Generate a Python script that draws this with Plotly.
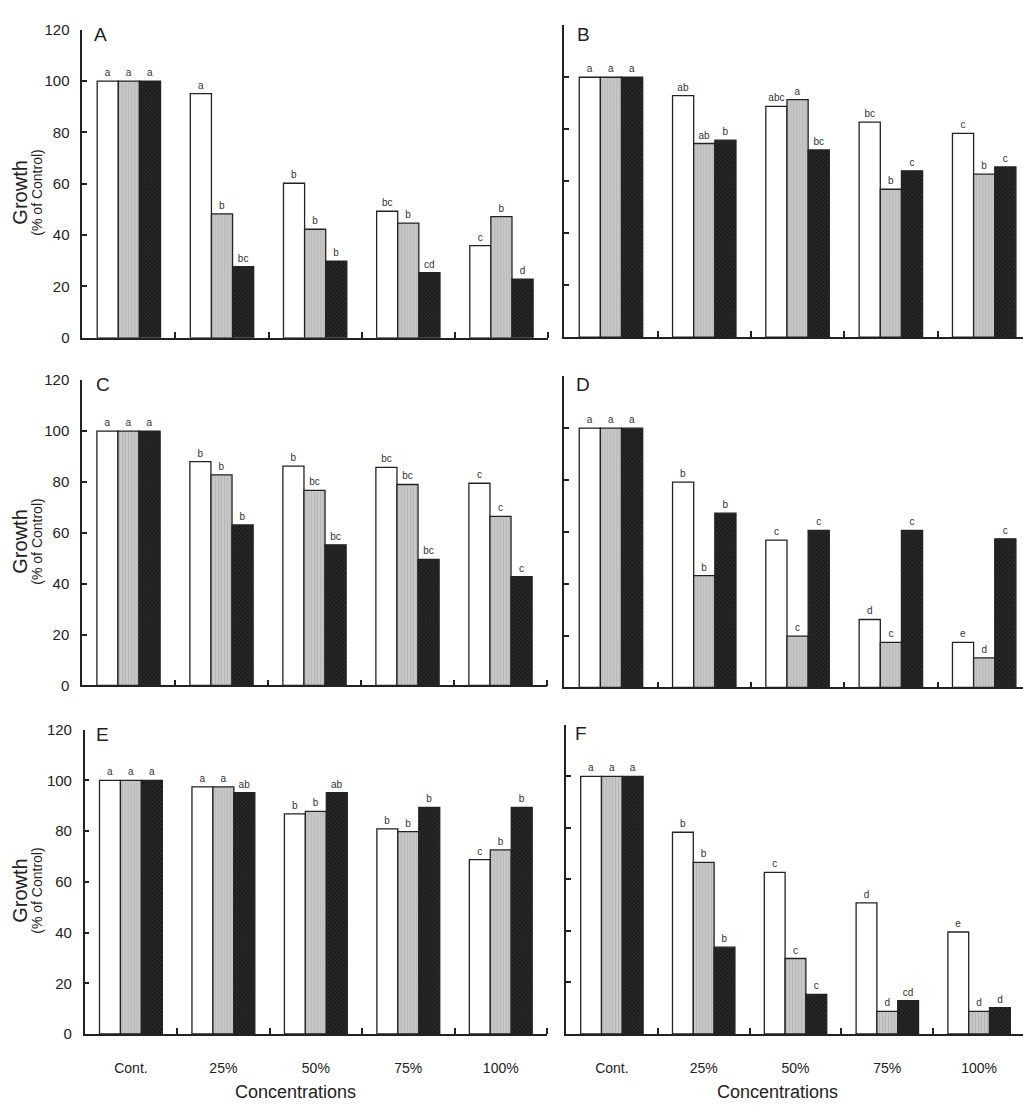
import plotly.graph_objects as go

categories = ["Cont.", "25%", "50%", "75%", "100%"]

A_white = [100, 95.1, 60.2, 49.3, 35.9]
A_gray = [100, 48.3, 42.3, 44.7, 47.2]
A_black = [100, 27.7, 29.9, 25.4, 22.9]
A_lw = ["a", "a", "b", "bc", "c"]
A_lg = ["a", "b", "b", "b", "b"]
A_lb = ["a", "bc", "b", "cd", "d"]

B_white = [100, 92.9, 88.8, 82.7, 78.4]
B_gray = [100, 74.5, 91.4, 56.9, 62.7]
B_black = [100, 75.8, 72.0, 64.0, 65.5]
B_lw = ["a", "ab", "abc", "bc", "c"]
B_lg = ["a", "ab", "a", "b", "b"]
B_lb = ["a", "b", "bc", "c", "c"]

C_white = [100, 88.0, 86.2, 85.7, 79.5]
C_gray = [100, 82.8, 76.7, 79.0, 66.5]
C_black = [100, 63.1, 55.3, 49.6, 42.8]
C_lw = ["a", "b", "b", "bc", "c"]
C_lg = ["a", "b", "bc", "bc", "c"]
C_lb = ["a", "b", "bc", "bc", "c"]

D_white = [100, 79.2, 56.8, 26.2, 17.4]
D_gray = [100, 43.1, 19.8, 17.4, 11.4]
D_black = [100, 67.2, 60.6, 60.6, 57.3]
D_lw = ["a", "b", "c", "d", "e"]
D_lg = ["a", "b", "c", "c", "d"]
D_lb = ["a", "b", "c", "c", "c"]

E_white = [100, 97.5, 86.8, 80.9, 68.8]
E_gray = [100, 97.5, 87.8, 79.8, 72.6]
E_black = [100, 95.2, 95.2, 89.4, 89.4]
E_lw = ["a", "a", "b", "b", "c"]
E_lg = ["a", "a", "b", "b", "b"]
E_lb = ["a", "ab", "ab", "b", "b"]

F_white = [100, 78.3, 62.7, 50.9, 39.6]
F_gray = [100, 66.6, 29.3, 8.8, 8.8]
F_black = [100, 33.7, 15.4, 12.9, 10.2]
F_lw = ["a", "b", "c", "d", "e"]
F_lg = ["a", "b", "c", "d", "d"]
F_lb = ["a", "b", "c", "cd", "d"]

panels = [
    ("A", A_white, A_gray, A_black, A_lw, A_lg, A_lb),
    ("B", B_white, B_gray, B_black, B_lw, B_lg, B_lb),
    ("C", C_white, C_gray, C_black, C_lw, C_lg, C_lb),
    ("D", D_white, D_gray, D_black, D_lw, D_lg, D_lb),
    ("E", E_white, E_gray, E_black, E_lw, E_lg, E_lb),
    ("F", F_white, F_gray, F_black, F_lw, F_lg, F_lb),
]

W, H = 1023, 1106
# pixel geometry: (x_left, x_right, range_end, y_top(120), y_bottom(0))
geom = [
    (82.3, 548.0, 4.5, 21.0, 334.0),
    (564.3, 1023.0, 4.416, 16.5, 333.3),
    (82.0, 547.0, 4.5, 377.0, 687.0),
    (564.3, 1023.0, 4.416, 373.0, 689.0),
    (84.7, 547.0, 4.5, 732.0, 1041.0),
    (566.0, 1023.0, 4.478, 727.0, 1041.0),
]
# panel-letter anchor (left x, centre y) in pixels
letter_pos = [(92, 25.5), (575, 25.5), (94, 381.5), (574, 381.5), (94, 736.5), (573, 736)]

FONT = "Liberation Sans, Arial, sans-serif"
INK = "#222222"
xpos = list(range(len(categories)))

fig = go.Figure()
styles = [
    dict(color="#ffffff"),
    dict(color="#c0c0c0", pattern=dict(shape="|", bgcolor="#c8c8c8", fgcolor="#a6a6a6", size=3, solidity=0.35)),
    dict(color="#1c1c1c", pattern=dict(shape="x", bgcolor="#1c1c1c", fgcolor="#585858", size=3, solidity=0.3)),
]

for i, (name, w, g, b, lw, lg, lb) in enumerate(panels):
    ax = "" if i == 0 else str(i + 1)
    for vals, labs, st in ((w, lw, styles[0]), (g, lg, styles[1]), (b, lb, styles[2])):
        fig.add_trace(go.Bar(
            x=xpos, y=vals, text=labs, textposition="outside",
            textfont=dict(size=10, color="#333333", family=FONT),
            constraintext="none", cliponaxis=False,
            marker=dict(line=dict(color=INK, width=1.3), **st),
            xaxis="x" + ax, yaxis="y" + ax, showlegend=False, hoverinfo="skip",
        ))
    xl, xr, rend, yt, yb = geom[i]
    bottom_row = i >= 4
    left_col = i % 2 == 0
    fig.layout["xaxis" + ax] = dict(
        domain=[xl / W, xr / W], range=[-0.5, rend], anchor="y" + ax,
        showline=True, linecolor=INK, linewidth=1.5, showgrid=False, zeroline=False,
        tickmode="array", tickvals=xpos, ticktext=categories, ticks="",
        ticklabelstandoff=20,
        showticklabels=bottom_row, tickfont=dict(size=14, family=FONT, color=INK),
        minor=dict(tickmode="array", tickvals=[0.5, 1.5, 2.5, 3.5, 4.5], ticks="inside",
                   ticklen=6, tickwidth=1.5, tickcolor=INK, showgrid=False),
    )
    fig.layout["yaxis" + ax] = dict(
        domain=[1 - yb / H, 1 - yt / H], range=[0, 120], anchor="x" + ax,
        showline=True, linecolor=INK, linewidth=1.5, showgrid=False, zeroline=False,
        tickmode="array", tickvals=[0, 20, 40, 60, 80, 100, 120], ticks="inside",
        ticklen=5, tickwidth=1.5, tickcolor=INK, ticklabelstandoff=8,
        showticklabels=left_col, tickfont=dict(size=15, family=FONT, color=INK),
    )
    lx, ly = letter_pos[i]
    fig.add_annotation(text=name, xref="paper", yref="paper",
                       x=lx / W, y=1 - ly / H, xanchor="left", yanchor="middle",
                       showarrow=False, font=dict(size=19, family=FONT, color=INK))
    if left_col:
        cy = 1 - ((yt + yb) / 2 + 9) / H
        fig.add_annotation(text="Growth", xref="paper", yref="paper", x=20 / W, y=cy,
                           textangle=-90, showarrow=False, xanchor="center", yanchor="middle",
                           font=dict(size=20, family=FONT, color=INK))
        fig.add_annotation(text="(% of Control)", xref="paper", yref="paper", x=37 / W, y=cy,
                           textangle=-90, showarrow=False, xanchor="center", yanchor="middle",
                           font=dict(size=14, family=FONT, color=INK))

for cx in (295, 777):
    fig.add_annotation(text="Concentrations", xref="paper", yref="paper", x=cx / W, y=1 - 1100 / H,
                       showarrow=False, xanchor="center", yanchor="middle",
                       font=dict(size=18, family=FONT, color=INK))

fig.update_layout(
    width=W, height=H, margin=dict(l=0, r=0, t=0, b=0),
    paper_bgcolor="white", plot_bgcolor="white",
    barmode="group", bargap=0.32, bargroupgap=0.0,
)

fig.write_html("out.html")
